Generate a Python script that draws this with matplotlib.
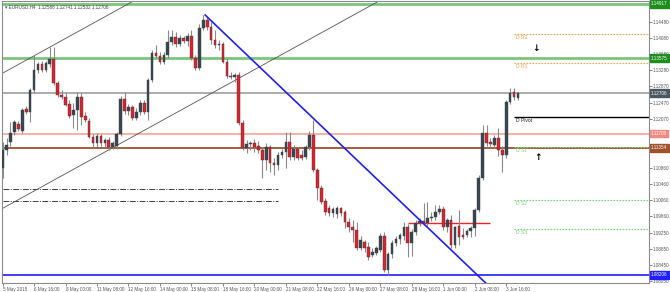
import numpy as np
import matplotlib.pyplot as plt

plt.rcParams['font.family'] = ['Liberation Sans Narrow', 'Liberation Sans', 'DejaVu Sans']

# EURUSD H4 candles, 5 May - 3 Jun 2015
opens = [1.1085, 1.1130, 1.1149, 1.1174, 1.1194, 1.1177, 1.1231, 1.1224, 1.1278, 1.1328,
         1.1343, 1.1328, 1.1343, 1.1355, 1.1296, 1.1266, 1.1261, 1.1244, 1.1216, 1.1229,
         1.1261, 1.1214, 1.1202, 1.1162, 1.1147, 1.1164, 1.1147, 1.1154, 1.1137, 1.1140,
         1.1169, 1.1256, 1.1226, 1.1236, 1.1209, 1.1224, 1.1246, 1.1224, 1.1303, 1.1370,
         1.1363, 1.1348, 1.1365, 1.1397, 1.1410, 1.1392, 1.1407, 1.1400, 1.1412, 1.1358,
         1.1333, 1.1432, 1.1452, 1.1434, 1.1402, 1.1390, 1.1392, 1.1348, 1.1313, 1.1311,
         1.1316, 1.1197, 1.1135, 1.1145, 1.1147, 1.1140, 1.1130, 1.1105, 1.1137, 1.1097,
         1.1092, 1.1117, 1.1125, 1.1149, 1.1112, 1.1132, 1.1117, 1.1112, 1.1137, 1.1167,
         1.1080, 1.1036, 1.1003, 1.0986, 1.0974, 1.0971, 1.0986, 1.0976, 1.0951, 1.0939,
         1.0931, 1.0887, 1.0902, 1.0889, 1.0869, 1.0874, 1.0882, 1.0917, 1.0832, 1.0872,
         1.0899, 1.0909, 1.0917, 1.0939, 1.0899, 1.0927, 1.0949, 1.0954, 1.0949, 1.0961,
         1.0964, 1.0976, 1.0983, 1.0939, 1.0956, 1.0894, 1.0941, 1.0919, 1.0919, 1.0929,
         1.0936, 1.0981, 1.1060, 1.1172, 1.1149, 1.1142, 1.1159, 1.1130, 1.1117, 1.1249,
         1.1273, 1.12588]
highs = [1.1149, 1.1159, 1.1199, 1.1204, 1.1202, 1.1234, 1.1239, 1.1283, 1.1365, 1.1348,
         1.1350, 1.1350, 1.1385, 1.1385, 1.1301, 1.1278, 1.1271, 1.1254, 1.1246, 1.1273,
         1.1271, 1.1224, 1.1209, 1.1169, 1.1172, 1.1169, 1.1159, 1.1162, 1.1152, 1.1174,
         1.1263, 1.1273, 1.1244, 1.1241, 1.1234, 1.1254, 1.1254, 1.1308, 1.1377, 1.1390,
         1.1372, 1.1372, 1.1427, 1.1427, 1.1422, 1.1415, 1.1412, 1.1420, 1.1427, 1.1365,
         1.1442, 1.1464, 1.1459, 1.1447, 1.1427, 1.1402, 1.1397, 1.1358, 1.1323, 1.1320,
         1.1323, 1.1204, 1.1154, 1.1152, 1.1157, 1.1152, 1.1137, 1.1147, 1.1142, 1.1110,
         1.1125, 1.1132, 1.1174, 1.1174, 1.1142, 1.1137, 1.1130, 1.1142, 1.1177, 1.1204,
         1.1085, 1.1043, 1.1011, 1.0993, 1.0988, 1.0991, 1.0988, 1.0981, 1.0961, 1.0956,
         1.0951, 1.0917, 1.0907, 1.0902, 1.0887, 1.0892, 1.0924, 1.0927, 1.0877, 1.0907,
         1.0917, 1.0924, 1.0951, 1.0946, 1.0934, 1.0956, 1.0961, 1.0998, 1.1001, 1.0976,
         1.0993, 1.0993, 1.0991, 1.0961, 1.0969, 1.0941, 1.0981, 1.0936, 1.0934, 1.0941,
         1.0986, 1.1068, 1.1192, 1.1192, 1.1159, 1.1167, 1.1184, 1.1140, 1.1254, 1.1283,
         1.1283, 1.12741]
lows = [1.1060, 1.1117, 1.1140, 1.1167, 1.1177, 1.1172, 1.1219, 1.1199, 1.1271, 1.1320,
        1.1323, 1.1323, 1.1335, 1.1291, 1.1261, 1.1256, 1.1239, 1.1209, 1.1184, 1.1179,
        1.1192, 1.1199, 1.1159, 1.1135, 1.1137, 1.1140, 1.1135, 1.1130, 1.1132, 1.1132,
        1.1164, 1.1219, 1.1216, 1.1204, 1.1204, 1.1216, 1.1219, 1.1204, 1.1298, 1.1358,
        1.1343, 1.1343, 1.1358, 1.1390, 1.1385, 1.1387, 1.1395, 1.1387, 1.1353, 1.1328,
        1.1328, 1.1427, 1.1427, 1.1392, 1.1382, 1.1377, 1.1345, 1.1308, 1.1306, 1.1298,
        1.1192, 1.1130, 1.1122, 1.1130, 1.1125, 1.1122, 1.1060, 1.1080, 1.1075, 1.1068,
        1.1080, 1.1110, 1.1085, 1.1105, 1.1105, 1.1105, 1.1105, 1.1107, 1.1130, 1.1075,
        1.1006, 1.0996, 1.0969, 1.0966, 1.0964, 1.0961, 1.0966, 1.0936, 1.0927, 1.0902,
        1.0882, 1.0882, 1.0877, 1.0857, 1.0865, 1.0869, 1.0877, 1.0827, 1.0820, 1.0862,
        1.0892, 1.0897, 1.0907, 1.0865, 1.0867, 1.0919, 1.0941, 1.0944, 1.0941, 1.0954,
        1.0956, 1.0971, 1.0931, 1.0927, 1.0887, 1.0887, 1.0894, 1.0909, 1.0914, 1.0914,
        1.0917, 1.0976, 1.1055, 1.1140, 1.1135, 1.1135, 1.1115, 1.1075, 1.1110, 1.1244,
        1.1254, 1.12532]
closes = [1.1130, 1.1142, 1.1172, 1.1199, 1.1182, 1.1229, 1.1224, 1.1278, 1.1328, 1.1343,
          1.1328, 1.1345, 1.1355, 1.1296, 1.1266, 1.1261, 1.1241, 1.1214, 1.1229, 1.1261,
          1.1211, 1.1204, 1.1162, 1.1147, 1.1164, 1.1147, 1.1154, 1.1137, 1.1147, 1.1169,
          1.1256, 1.1226, 1.1236, 1.1209, 1.1224, 1.1246, 1.1224, 1.1303, 1.1370, 1.1363,
          1.1348, 1.1365, 1.1397, 1.1410, 1.1392, 1.1407, 1.1400, 1.1412, 1.1358, 1.1333,
          1.1432, 1.1452, 1.1434, 1.1402, 1.1390, 1.1392, 1.1348, 1.1313, 1.1311, 1.1316,
          1.1197, 1.1135, 1.1145, 1.1147, 1.1137, 1.1130, 1.1105, 1.1137, 1.1097, 1.1092,
          1.1117, 1.1125, 1.1149, 1.1112, 1.1132, 1.1110, 1.1110, 1.1137, 1.1167, 1.1080,
          1.1036, 1.1001, 1.0976, 1.0974, 1.0983, 1.0986, 1.0974, 1.0951, 1.0939, 1.0931,
          1.0887, 1.0907, 1.0887, 1.0865, 1.0877, 1.0887, 1.0917, 1.0832, 1.0872, 1.0899,
          1.0909, 1.0919, 1.0939, 1.0899, 1.0927, 1.0949, 1.0954, 1.0949, 1.0961, 1.0964,
          1.0976, 1.0983, 1.0939, 1.0956, 1.0894, 1.0939, 1.0914, 1.0914, 1.0929, 1.0936,
          1.0981, 1.1060, 1.1172, 1.1147, 1.1145, 1.1159, 1.1130, 1.1117, 1.1249, 1.1271,
          1.1261, 1.12706]

time_labels = ['5 May 2015', '6 May 16:00', '8 May 00:00', '11 May 08:00', '12 May 16:00',
               '14 May 00:00', '15 May 08:00', '18 May 16:00', '20 May 00:00', '21 May 08:00',
               '22 May 16:00', '26 May 00:00', '27 May 08:00', '28 May 16:00', '1 Jun 00:00',
               '2 Jun 08:00', '3 Jun 16:00']
bars_per_label = 8

# 1.11670 is hidden behind the level box in the original
price_ticks = [1.14480, 1.14080, 1.13680, 1.13280, 1.12870, 1.12470, 1.12070,
               1.11270, 1.10860, 1.10460, 1.10060, 1.09660, 1.09250, 1.08850, 1.08450, 1.08050]

# horizontal levels with price boxes on the right
level_prices = [1.14917, 1.13575, 1.12706, 1.11705, 1.11354, 1.08206]
level_line_colors = ['#7cc47c', '#7cc47c', '#a6a6a6', '#f6aaa2', '#a0522d', '#3030ff']
level_box_colors = ['#1e8c1e', '#1e8c1e', '#4b5661', '#f08a80', '#a0522d', '#2020ff']

# daily pivots
pivot_names = ['D R2', 'D R1', 'D Pivot', 'D S1', 'D S2', 'D S3']
pivot_prices = [1.1417, 1.1346, 1.1211, 1.1138, 1.1006, 1.0934]
pivot_colors = ['#f5a54a', '#f5a54a', '#000000', '#78d878', '#78d878', '#78d878']
pivot_start = 130

# drawn objects
dashdot_prices = [1.1033, 1.1003]
dashdot_span = [0, 70]
red_level = 1.0949
red_span = [103, 124]
blue_trend_x = [51.5, 122.8]
blue_trend_y = [1.1464, 1.0800]
chan_up_x = [0, 40]
chan_up_y = [1.1320, 1.1535]
chan_lo_x = [0, 100]
chan_lo_y = [1.0985, 1.1522]
arrow_down = (135.5, 1.1382)
arrow_up = (136.0, 1.1110)

o = np.array(opens); h = np.array(highs); l = np.array(lows); c = np.array(closes)
idx = np.arange(len(c))
up = c >= o
fs = 3.3

fig = plt.figure(figsize=(6.7, 2.92), dpi=100)
ax = fig.add_axes([2 / 670, 9 / 292, 647 / 670, 282 / 292])
ax.set_xlim(-0.15, 164.3)
ax.set_ylim(1.08001, 1.14988)

for p, col in zip(level_prices, level_line_colors):
    lw = 2.0 if col == '#7cc47c' else 1.3
    ax.axhline(p, color=col, lw=lw, zorder=2)

ax.hlines(dashdot_prices, dashdot_span[0], dashdot_span[1], colors='#404040', lw=0.7,
          linestyles=(0, (6, 1.5, 1, 1.5)), zorder=2)
ax.hlines(red_level, red_span[0], red_span[1], colors='#ff2020', lw=1.0, zorder=2)
ax.plot(chan_up_x, chan_up_y, color='#555555', lw=0.6, zorder=2)
ax.plot(chan_lo_x, chan_lo_y, color='#555555', lw=0.6, zorder=2)
ax.plot(blue_trend_x, blue_trend_y, color='#2020f0', lw=1.2, zorder=5)

for name, p, col in zip(pivot_names, pivot_prices, pivot_colors):
    if name == 'D Pivot':
        ax.hlines(p, pivot_start, 164.3, colors=col, lw=1.0, zorder=2)
    else:
        ax.hlines(p, pivot_start, 164.3, colors=col, lw=0.8, linestyles=(0, (1.5, 1.2)), zorder=2)
    ax.text(pivot_start + 0.6, p - 0.0003, name, color=col if name != 'D Pivot' else '#202020',
            fontsize=3.6, ha='left', va='top', zorder=6)

ax.text(arrow_down[0], arrow_down[1], '\u2193', family='DejaVu Sans', fontsize=6.5,
        fontweight='bold', ha='center', va='center', zorder=6)
ax.text(arrow_up[0], arrow_up[1], '\u2191', family='DejaVu Sans', fontsize=6.5,
        fontweight='bold', ha='center', va='center', zorder=6)

# candles
ax.vlines(idx, l, h, color='#8a8a8a', lw=0.8, zorder=3)
ax.bar(idx[up], np.maximum(c[up] - o[up], 0.00004), bottom=o[up], width=0.68,
       color='#3a444e', edgecolor='#3a444e', lw=0.3, zorder=4)
ax.bar(idx[~up], o[~up] - c[~up], bottom=c[~up], width=0.68,
       color='#e3202b', edgecolor='#3a3a3a', lw=0.3, zorder=4)

# axes styling
for s in ax.spines.values():
    s.set_color('#8c8c8c')
    s.set_linewidth(0.8)
ax.yaxis.tick_right()
ax.set_yticks(price_ticks)
ax.set_yticklabels(['%.5f' % p for p in price_ticks])
ax.tick_params(axis='y', length=2, width=0.5, pad=0.8, labelsize=fs, colors='#555555')
ax.set_xticks(idx[::bars_per_label][:len(time_labels)])
ax.set_xticklabels(time_labels, ha='left')
ax.tick_params(axis='x', length=2, width=0.5, pad=1.0, labelsize=fs, colors='#555555')

for p, col in zip(level_prices, level_box_colors):
    ax.text(1.003, p, '%.5f' % p, transform=ax.get_yaxis_transform(), color='white',
            fontsize=fs, ha='left', va='center', clip_on=False, zorder=10,
            bbox=dict(boxstyle='square,pad=0.3', fc=col, ec=col))

ax.text(0.004, 0.988, '\u25be EURUSD,H4  1.12588 1.12741 1.12532 1.12706', transform=ax.transAxes,
        fontsize=3.3, color='#404040', ha='left', va='top', zorder=10)

fig.savefig('out.png', dpi=100)
